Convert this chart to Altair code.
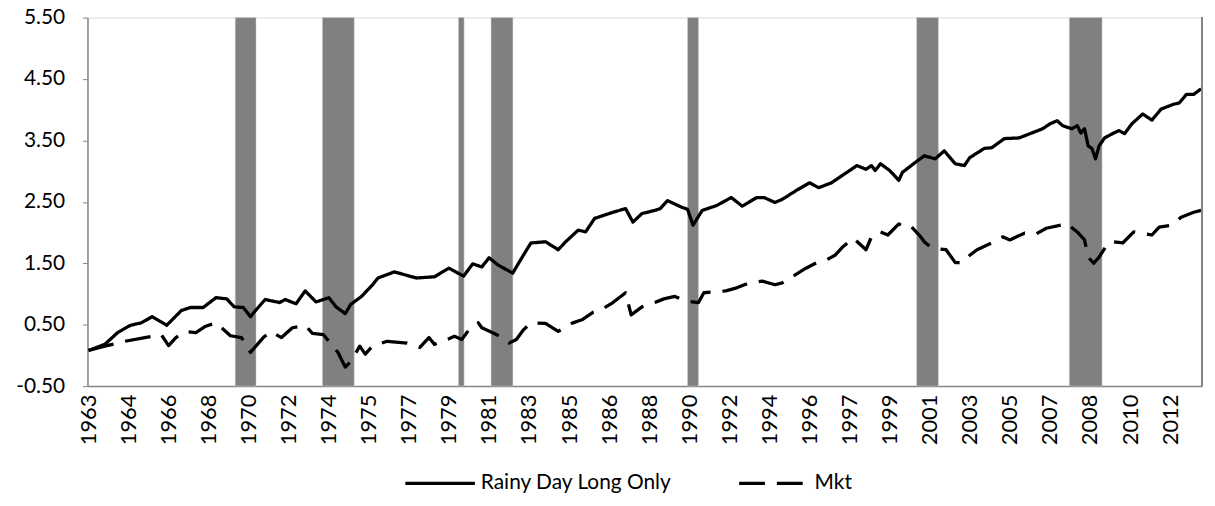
import altair as alt
import pandas as pd

# ---------------- data ----------------
rainy_dates = [
    "1963-01-01", "1963-10-01", "1964-05-01", "1964-12-01", "1965-06-01", "1965-12-01",
    "1966-08-01", "1967-04-01", "1967-09-01", "1968-04-01", "1968-11-01", "1969-05-01",
    "1969-09-01", "1970-02-01", "1970-06-01", "1970-09-01", "1971-02-01", "1971-10-01",
    "1972-01-01", "1972-07-01", "1972-12-01", "1973-06-01", "1974-01-01", "1974-05-01",
    "1974-10-01", "1975-01-01", "1975-07-01", "1976-01-01", "1976-04-01", "1977-01-01",
    "1978-01-01", "1978-11-01", "1979-07-01", "1980-03-01", "1980-08-01", "1981-01-01",
    "1981-05-01", "1981-10-01", "1982-06-01", "1982-11-01", "1983-04-01", "1983-12-01",
    "1984-07-01", "1984-11-01", "1985-06-01", "1985-10-01", "1986-03-01", "1987-01-01",
    "1987-08-01", "1987-12-01", "1988-05-01", "1988-12-01", "1989-03-01", "1989-07-01",
    "1990-03-01", "1990-06-01", "1990-09-01", "1991-02-01", "1991-10-01", "1992-06-01",
    "1992-12-01", "1993-08-01", "1993-12-01", "1994-06-01", "1994-10-01", "1995-06-01",
    "1996-01-01", "1996-06-01", "1997-01-01", "1997-06-01", "1997-12-01", "1998-03-01",
    "1998-08-01", "1998-11-01", "1999-01-01", "1999-04-01", "1999-09-01", "2000-02-01",
    "2000-04-01", "2000-11-01", "2001-04-01", "2001-10-01", "2002-03-01", "2002-09-01",
    "2003-02-01", "2003-05-01", "2004-01-01", "2004-05-01", "2004-12-01", "2005-08-01",
    "2006-03-01", "2006-09-01", "2007-01-01", "2007-05-01", "2007-08-01", "2008-01-01",
    "2008-04-01", "2008-06-01", "2008-08-01", "2008-10-01", "2008-12-01", "2009-02-01",
    "2009-04-01", "2009-07-01", "2009-12-01", "2010-03-01", "2010-06-01", "2010-10-01",
    "2011-04-01", "2011-09-01", "2012-02-01", "2012-09-01", "2012-12-01", "2013-04-01",
    "2013-08-01", "2013-12-01",
]
rainy_values = [
    0.08, 0.18, 0.37, 0.49, 0.53, 0.63,
    0.49, 0.73, 0.78, 0.78, 0.94, 0.92,
    0.79, 0.78, 0.63, 0.74, 0.91, 0.86,
    0.91, 0.84, 1.05, 0.87, 0.94, 0.79,
    0.68, 0.83, 0.96, 1.15, 1.26, 1.36,
    1.26, 1.28, 1.42, 1.29, 1.49, 1.44,
    1.59, 1.47, 1.34, 1.59, 1.83, 1.85,
    1.72, 1.85, 2.04, 2.01, 2.23, 2.33,
    2.39, 2.17, 2.31, 2.36, 2.39, 2.52,
    2.41, 2.38, 2.12, 2.36, 2.44, 2.57,
    2.43, 2.57, 2.57, 2.49, 2.54, 2.69,
    2.81, 2.73, 2.81, 2.91, 3.03, 3.09,
    3.03, 3.09, 3.01, 3.12, 3.01, 2.85,
    2.98, 3.14, 3.25, 3.20, 3.33, 3.12,
    3.09, 3.22, 3.37, 3.38, 3.53, 3.54,
    3.62, 3.69, 3.77, 3.82, 3.74, 3.69,
    3.74, 3.62, 3.69, 3.41, 3.37, 3.20,
    3.41, 3.54, 3.62, 3.66, 3.61, 3.77,
    3.93, 3.83, 4.01, 4.09, 4.11, 4.25,
    4.25, 4.34,
]

mkt_dates = [
    "1963-01-01", "1963-10-01", "1964-09-01", "1965-08-01", "1966-05-01", "1966-09-01",
    "1967-01-01", "1967-06-01", "1967-12-01", "1968-05-01", "1968-11-01", "1969-07-01",
    "1970-01-01", "1970-06-01", "1971-01-01", "1971-05-01", "1971-11-01", "1972-05-01",
    "1972-12-01", "1973-04-01", "1973-10-01", "1974-06-01", "1974-10-01", "1975-01-01",
    "1975-06-01", "1975-09-01", "1976-01-01", "1976-09-01", "1977-08-01", "1978-03-01",
    "1978-08-01", "1978-11-01", "1979-04-01", "1979-10-01", "1980-02-01", "1980-06-01",
    "1980-11-01", "1981-01-01", "1981-07-01", "1981-11-01", "1982-04-01", "1982-08-01",
    "1982-12-01", "1983-04-01", "1983-12-01", "1984-07-01", "1985-03-01", "1985-08-01",
    "1986-02-01", "1986-07-01", "1987-01-01", "1987-08-01", "1987-11-01", "1988-05-01",
    "1988-12-01", "1989-05-01", "1989-11-01", "1990-03-01", "1990-07-01", "1990-12-01",
    "1991-03-01", "1991-10-01", "1992-03-01", "1992-09-01", "1993-03-01", "1993-11-01",
    "1994-06-01", "1994-10-01", "1995-04-01", "1995-11-01", "1996-05-01", "1996-10-01",
    "1997-03-01", "1997-07-01", "1998-01-01", "1998-08-01", "1998-11-01", "1999-04-01",
    "1999-08-01", "2000-02-01", "2000-06-01", "2000-09-01", "2001-02-01", "2001-04-01",
    "2001-08-01", "2002-04-01", "2002-09-01", "2003-01-01", "2003-05-01", "2003-09-01",
    "2004-05-01", "2004-11-01", "2005-03-01", "2005-11-01", "2006-05-01", "2006-11-01",
    "2007-07-01", "2007-10-01", "2008-04-01", "2008-08-01", "2008-10-01", "2009-01-01",
    "2009-04-01", "2009-09-01", "2009-12-01", "2010-05-01", "2010-11-01", "2011-09-01",
    "2012-01-01", "2012-08-01", "2013-01-01", "2013-08-01", "2013-12-01",
]
mkt_values = [
    0.08, 0.15, 0.23, 0.29, 0.34, 0.16,
    0.29, 0.39, 0.37, 0.47, 0.53, 0.32,
    0.29, 0.05, 0.29, 0.39, 0.29, 0.45,
    0.49, 0.36, 0.34, 0.05, -0.19, -0.10,
    0.15, 0.02, 0.15, 0.23, 0.20, 0.13,
    0.29, 0.18, 0.23, 0.31, 0.26, 0.42,
    0.53, 0.45, 0.37, 0.31, 0.20, 0.26,
    0.42, 0.53, 0.52, 0.39, 0.53, 0.58,
    0.70, 0.75, 0.86, 1.02, 0.66, 0.79,
    0.86, 0.92, 0.96, 0.91, 0.88, 0.86,
    1.02, 1.04, 1.05, 1.10, 1.17, 1.21,
    1.15, 1.18, 1.29, 1.42, 1.51, 1.55,
    1.63, 1.76, 1.91, 1.72, 1.93, 2.01,
    1.96, 2.14, 2.07, 2.09, 1.93, 1.85,
    1.75, 1.72, 1.51, 1.51, 1.63, 1.72,
    1.83, 1.93, 1.88, 1.99, 1.97, 2.07,
    2.12, 2.15, 2.01, 1.88, 1.60, 1.50,
    1.60, 1.83, 1.85, 1.83, 2.01, 1.96,
    2.09, 2.12, 2.25, 2.33, 2.36,
]

band_starts = ["1969-09-19", "1973-09-15", "1979-12-07", "1981-06-04",
               "1990-06-01", "2000-11-24", "2007-11-21"]
band_ends = ["1970-09-01", "1975-03-01", "1980-03-10", "1982-06-04",
             "1990-12-01", "2001-11-24", "2009-05-21"]

tick_dates = [
    "1963-01-01", "1964-11-01", "1966-09-01", "1968-07-01", "1970-05-01", "1972-03-01",
    "1974-01-01", "1975-11-01", "1977-09-01", "1979-07-01", "1981-05-01", "1983-03-01",
    "1985-01-01", "1986-11-01", "1988-09-01", "1990-07-01", "1992-05-01", "1994-03-01",
    "1996-01-01", "1997-11-01", "1999-09-01", "2001-07-01", "2003-05-01", "2005-03-01",
    "2007-01-01", "2008-11-01", "2010-09-01", "2012-07-01",
]
y_ticks = [-0.5, 0.5, 1.5, 2.5, 3.5, 4.5, 5.5]
series_names = ["Rainy Day Long Only", "Mkt"]

# ---------------- tables ----------------
lines_df = pd.concat([
    pd.DataFrame({"date": rainy_dates, "value": rainy_values, "series": series_names[0]}),
    pd.DataFrame({"date": mkt_dates, "value": mkt_values, "series": series_names[1]}),
], ignore_index=True)
bands_df = pd.DataFrame({"start": band_starts, "end": band_ends})


def ms(s):
    return int(pd.Timestamp(s, tz="UTC").value // 10**6)


W, H = 1122, 371
FONT = "Lato"
AXIS_GRAY = "#868686"

x_scale = alt.Scale(type="utc", domain=[ms("1962-12-15"), ms("2013-12-17")])
x_axis = alt.Axis(values=[ms(d) for d in tick_dates],
                  labelExpr="utcFormat(datum.value, '%Y')",
                  labelAngle=-90, labelFontSize=22, labelFont=FONT, labelColor="black",
                  ticks=False, domainColor=AXIS_GRAY, domainWidth=1.5, grid=False,
                  labelPadding=8, labelOverlap=False, title="")

bands = alt.Chart(bands_df).mark_rect(color="#808080", stroke="#cfcfcf", strokeWidth=0.5).encode(
    x=alt.X("start:T", scale=x_scale, axis=x_axis),
    x2="end:T",
    y=alt.value(0),
    y2=alt.value(H),
)

lines = alt.Chart(lines_df).mark_line(strokeWidth=3.3, color="black", strokeJoin="round").encode(
    x=alt.X("date:T", scale=x_scale, axis=x_axis),
    y=alt.Y("value:Q", scale=alt.Scale(domain=[-0.5, 5.5], nice=False, zero=False),
            axis=alt.Axis(values=y_ticks,
                          labelExpr="replace(format(datum.value, '.2f'), '\u2212', '-')",
                          labelFontSize=21, labelFont=FONT, labelColor="black", tickSize=5,
                          tickColor=AXIS_GRAY, domainColor=AXIS_GRAY, domainWidth=1.5,
                          grid=False, labelPadding=18, title="")),
    strokeDash=alt.StrokeDash("series:N",
                              scale=alt.Scale(domain=series_names, range=[[1, 0], [26, 12]]),
                              legend=alt.Legend(title=None, orient="none", direction="horizontal",
                                                legendX=318, legendY=432, symbolType="stroke",
                                                symbolSize=4900, symbolStrokeWidth=3.3,
                                                symbolStrokeColor="black",
                                                labelFontSize=21, labelFont=FONT,
                                                labelColor="black", columnPadding=60,
                                                labelOffset=4, labelLimit=400)),
    detail="series:N",
)

right_border = alt.Chart(bands_df).mark_rule(color=AXIS_GRAY, strokeWidth=1.5).encode(
    x=alt.value(W), y=alt.value(0), y2=alt.value(H)
)

chart = alt.layer(bands, lines, right_border).properties(
    width=W, height=H,
    autosize=alt.AutoSizeParams(type="none"),
    padding={"left": 80, "top": 8, "right": 5, "bottom": 110},
).configure_view(stroke=None).configure(background="white")

chart.save("out.html", embed_options={"renderer": "svg", "actions": False})
